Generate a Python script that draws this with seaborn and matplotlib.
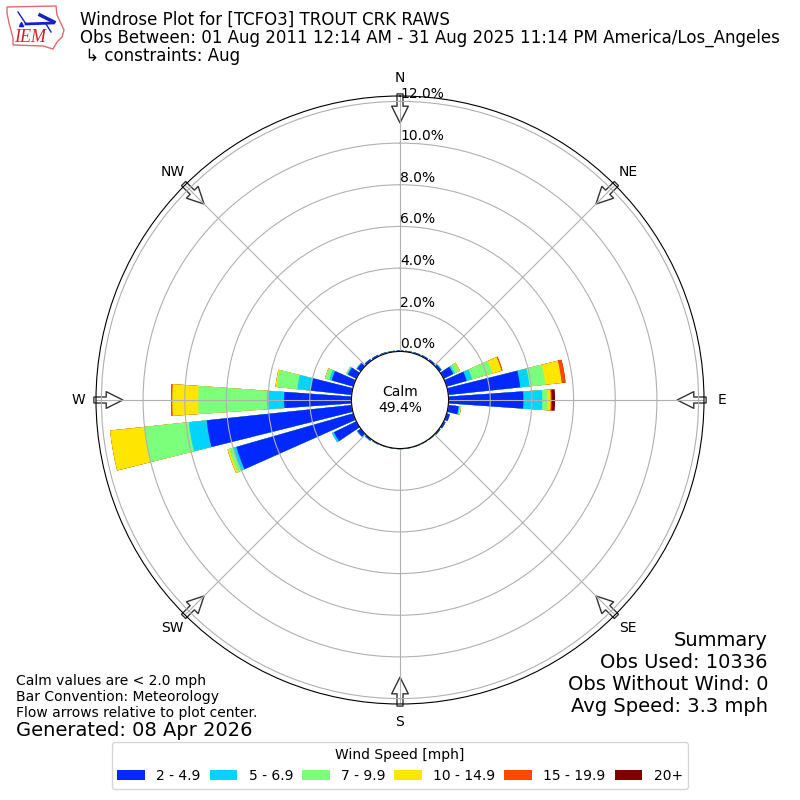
import numpy as np
import pandas as pd
import seaborn as sns
import matplotlib
matplotlib.use('Agg')
import matplotlib.pyplot as plt
from matplotlib.patches import Patch, Polygon

directions = list(range(0, 360, 10))
speed_2_5 = [.05, .05, .06, .07, .08, .12, .52, 1.0, 3.47, 3.59, .5, .16, .1, .07, .04, .03, .03, .03,
             .03, .03, .03, .05, .08, .2, 1.2, 5.84, 7.0, 3.23, 1.97, 1.08, .45, .22, .1, .08, .06, .05]
speed_5_7 = [0, 0, 0, 0, 0, .02, .08, .27, .45, .91, .05, 0, 0, 0, 0, 0, 0, 0,
             0, 0, 0, 0, .02, .02, .1, .17, .86, .81, .65, .12, .05, .03, 0, 0, 0, 0]
speed_7_10 = [0, 0, 0, 0, 0, 0, .23, 1.01, .76, .24, .05, 0, 0, 0, 0, 0, 0, 0,
              0, 0, 0, 0, 0, 0, 0, .18, 2.16, 3.31, 1.0, .2, .04, 0, 0, 0, 0, 0]
speed_10_15 = [0, 0, 0, 0, 0, 0, .04, .46, .79, .16, .02, 0, 0, 0, 0, 0, 0, 0,
               0, 0, 0, 0, 0, 0, 0, .09, 1.64, 1.25, .06, .02, 0, 0, 0, 0, 0, 0]
speed_15_20 = [0, 0, 0, 0, 0, 0, 0, .05, .19, .05, 0, 0, 0, 0, 0, 0, 0, 0,
               0, 0, 0, 0, 0, 0, 0, 0, 0, .06, 0, 0, 0, 0, 0, 0, 0, 0]
speed_20 = [0, 0, 0, 0, 0, 0, 0, 0, 0, .16, 0, 0, 0, 0, 0, 0, 0, 0,
            0, 0, 0, 0, 0, 0, 0, 0, 0, 0, 0, 0, 0, 0, 0, 0, 0, 0]

speed_labels = ['2 - 4.9', '5 - 6.9', '7 - 9.9', '10 - 14.9', '15 - 19.9', '20+']
speed_colors = ['#0028ff', '#00d4ff', '#7cff7a', '#ffe600', '#ff4700', '#7f0000']
ring_ticks = [0, 2, 4, 6, 8, 10, 12]
compass_deg = [0, 45, 90, 135, 180, 225, 270, 315]
compass_labels = ['N', 'NE', 'E', 'SE', 'S', 'SW', 'W', 'NW']

# Stack by drawing the running total, tallest class first
speeds = np.array([speed_2_5, speed_5_7, speed_7_10, speed_10_15, speed_15_20, speed_20])
running = np.cumsum(speeds, axis=0)
frames = []
for label, row in zip(speed_labels, running):
    frames.append(pd.DataFrame({'theta': np.radians(directions), 'pct': row, 'speed': label}))
df = pd.concat(frames)

fig = plt.figure(figsize=(8, 8), dpi=100)
ax = fig.add_axes([0.12, 0.12, 0.76, 0.76], projection='polar')
ax.set_theta_zero_location('N')
ax.set_theta_direction(-1)

sns.barplot(data=df, x='theta', y='pct', hue='speed', hue_order=speed_labels[::-1],
            palette=dict(zip(speed_labels, speed_colors)), native_scale=True, dodge=False,
            errorbar=None, saturation=1, linewidth=0, legend=False, ax=ax)

ax.set_xlabel('')
ax.set_ylabel('')
ax.set_rorigin(-2.33)
ax.set_ylim(0, 12.26)
ax.set_yticks(ring_ticks)
ax.set_yticklabels([f'{v:.1f}%' for v in ring_ticks], fontsize=10)
ax.set_rlabel_position(0)
ax.set_xticks(np.radians(compass_deg))
ax.set_xticklabels(compass_labels, fontsize=10)
ax.tick_params(axis='x', pad=2.5)
ax.grid(True, color='#b0b0b0', linewidth=0.8)

# Flow arrows on the eight compass directions
for deg in compass_deg:
    ax.annotate('', xy=(np.radians(deg), 10.97), xytext=(np.radians(deg), 12.36),
                arrowprops=dict(width=4.3, headwidth=12, headlength=12, facecolor='white',
                                edgecolor='#333333', linewidth=1),
                annotation_clip=False, zorder=1)

ax.text(0, -2.33, 'Calm\n49.4%', ha='center', va='center', fontsize=10)

fig.text(80 / 800, 1 - 11 / 800,
         'Windrose Plot for [TCFO3] TROUT CRK RAWS\n'
         'Obs Between: 01 Aug 2011 12:14 AM - 31 Aug 2025 11:14 PM America/Los_Angeles\n'
         ' \u21b3 constraints: Aug', ha='left', va='top', fontsize=12, linespacing=1.0)

fig.text(768 / 800, 1 - 716 / 800,
         'Summary\nObs Used: 10336\nObs Without Wind: 0\nAvg Speed: 3.3 mph',
         ha='right', va='bottom', fontsize=14)
fig.text(16 / 800, 1 - 720 / 800,
         'Calm values are < 2.0 mph\nBar Convention: Meteorology\nFlow arrows relative to plot center.',
         ha='left', va='bottom', fontsize=10)
fig.text(16 / 800, 1 - 740 / 800, 'Generated: 08 Apr 2026', ha='left', va='bottom', fontsize=14)

handles = [Patch(facecolor=c, label=l) for c, l in zip(speed_colors, speed_labels)]
fig.legend(handles=handles, title='Wind Speed [mph]', ncol=6, loc='center', columnspacing=0.65,
           bbox_to_anchor=(0.5, 1 - 765.5 / 800), fontsize=10, title_fontsize=10)

# IEM logo, roughly
logo = fig.add_axes([0, 1 - 55 / 800, 70 / 800, 55 / 800])
logo.set_xlim(0, 70)
logo.set_ylim(55, 0)
logo.axis('off')
state_x = [7, 56, 57, 64, 62, 57, 53, 43, 13, 13, 9, 7]
state_y = [7, 6, 15, 30, 37, 42, 49, 46, 45, 38, 23, 13]
logo.add_patch(Polygon(list(zip(state_x, state_y)), closed=True, fill=False, edgecolor='#e06a70', linewidth=1))
logo.plot([26, 53], [24, 23], color='#1420c8', linewidth=2)
logo.plot([18, 26], [12, 24], color='#1420c8', linewidth=1)
logo.plot([40, 54], [15, 22], color='#1420c8', linewidth=2.5)
logo.plot([46, 51], [24, 32], color='#1420c8', linewidth=1)
logo.plot([21], [24], marker='^', color='#1420c8', markersize=3)
logo.text(30, 38, 'IEM', color='#d02028', fontsize=13, style='italic',
          family='Liberation Serif', ha='center', va='center')

fig.savefig('out.png', dpi=100)
